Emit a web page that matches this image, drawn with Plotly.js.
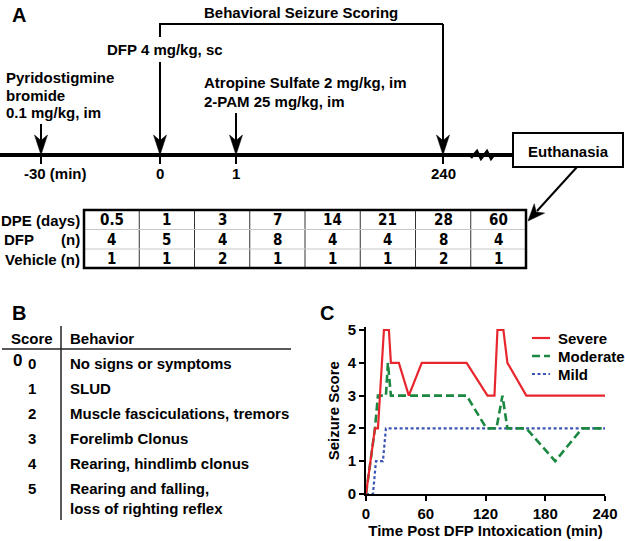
<!DOCTYPE html>
<html><head><meta charset="utf-8">
<script src="https://cdn.plot.ly/plotly-3.0.1.min.js"></script>
<style>body{margin:0;background:#fff}#c{width:625px;height:541px}</style>
</head><body><div id="c"></div><script>
// ---------------- data ----------------
const dpeDays = ['0.5','1','3','7','14','21','28','60'];
const dfpN = [4,5,4,8,4,4,8,4];
const vehicleN = [1,1,2,1,1,1,2,1];
const rowLabelRight = ['DPE (days)','(n)','Vehicle (n)'];
const rowLabelLeft = ['','DFP',''];
const scoreValues = ['0','1','2','3','4','5'];
const behaviorText = ['No signs or symptoms','SLUD','Muscle fasciculations, tremors','Forelimb Clonus','Rearing, hindlimb clonus','Rearing and falling,|loss of righting reflex'];
const seriesNames = ['Severe','Moderate','Mild'];
const severeTime  = [0,9,12,18,23,25,33,43,56,101,122,129,132,138,142,161,240];
const severeScore = [0,2,2,5,5,4,4,3,4,4,3,3,5,5,4,3,3];
const moderateTime  = [0,9,12,20,22,25,101,121,131,137,142,161,190,217,240];
const moderateScore = [0,2,3,3,4,3,3,2,2,3,2,2,1,2,2];
const mildTime  = [0,7,10,17,20,240];
const mildScore = [0,0,1,1,2,2];
const xTickVals = [0,60,120,180,240];
const yTickVals = [0,1,2,3,4,5];
const timelineLabels = ['-30 (min)','0','1','240'];

// ---------------- helpers ----------------
const W=625,H=541;
const FF='Liberation Sans, Arial, sans-serif';
const px=x=>x/W, py=y=>1-y/H;
const shapes=[], ann=[];
function line(x0,y0,x1,y1,w,c,dash){shapes.push({type:'line',xref:'paper',yref:'paper',x0:px(x0),y0:py(y0),x1:px(x1),y1:py(y1),line:{width:w,color:c||'#000',dash:dash||'solid'}});}
function rect(x0,y0,x1,y1,w){shapes.push({type:'rect',xref:'paper',yref:'paper',x0:px(x0),y0:py(y0),x1:px(x1),y1:py(y1),line:{width:w,color:'#000'},fillcolor:'rgba(0,0,0,0)'});}
function pathPx(pts,closed,fill,w){
  let s=pts.map((p,i)=>(i?'L':'M')+px(p[0]).toFixed(5)+','+py(p[1]).toFixed(5)).join(' ')+(closed?' Z':'');
  shapes.push({type:'path',xref:'paper',yref:'paper',path:s,fillcolor:fill||'rgba(0,0,0,0)',line:{width:w||0,color:'#000'}});
}
function head(tx,ty,dx,dy,len,half){
  const n=Math.hypot(dx,dy);dx/=n;dy/=n;const nx=-dy,ny=dx;
  const bx=tx-dx*len,by=ty-dy*len;
  pathPx([[tx,ty],[bx+nx*half,by+ny*half],[tx-dx*len*0.72,ty-dy*len*0.72],[bx-nx*half,by-ny*half]],true,'#000',0.5);
}
function text(t,x,y,size,xa,opts){
  ann.push(Object.assign({text:'<b>'+t+'</b>',x:px(x),y:py(y),xref:'paper',yref:'paper',showarrow:false,xanchor:xa||'center',yanchor:'middle',font:{family:FF,size:size||15,color:'#000'}},opts||{}));
}

// ---------------- Panel A ----------------
text('A',10,15,20,'left');
const evX=[41,160,236,443];
const lineY=155;
line(0,lineY,513,lineY,4);
pathPx([[471,158],[477,151],[481,159],[487,151],[491,159],[494,155]],false,null,2.5);
evX.forEach((x,i)=>{line(x,lineY,x,164,2);});
text(timelineLabels[0],55,173,15);
text(timelineLabels[1],evX[1],173,15);
text(timelineLabels[2],evX[2],173,15);
text(timelineLabels[3],evX[3],173,15);
const arrowTop=[124,62,113,24];
evX.forEach((x,i)=>{line(x,arrowTop[i],x,lineY-14,2);head(x,lineY,0,1,20,6.5);});
line(160,24,443,24,2);
line(160,23,160,37,2);
text('Behavioral Seizure Scoring',301,13,15);
text('DFP 4 mg/kg, sc',165,49,15);
text('Pyridostigmine',4,77,15,'left');
text('bromide',4,95,15,'left');
text('0.1 mg/kg, im',4,113,15,'left');
text('Atropine Sulfate 2 mg/kg, im',202,83,15,'left');
text('2-PAM 25 mg/kg, im',202,102,15,'left');
rect(513,133,623,167,2);
text('Euthanasia',568,151,15);
line(577,167,537,211,2);
head(528,221,-49,54,17,7);

// table
const tx0=84,tx1=526,colW=(tx1-tx0)/dpeDays.length;
const rowY=[210,229.5,249,268];
for(let i=1;i<dpeDays.length;i++) line(tx0+i*colW,rowY[0],tx0+i*colW,rowY[3],1,'#333');
line(tx0,rowY[1],tx1,rowY[1],1,'#c8c8c8');
line(tx0,rowY[2],tx1,rowY[2],1,'#c8c8c8');
rect(tx0,rowY[0],tx1,rowY[3],2.5);
const tableRows=[dpeDays,dfpN,vehicleN];
tableRows.forEach((row,r)=>{
  const cy=(rowY[r]+rowY[r+1])/2+0.5;
  row.forEach((v,i)=>text(String(v),tx0+(i+0.5)*colW,cy,16,'center',{font:{family:'DejaVu Sans Condensed, '+FF,size:15,color:'#000'}}));
  if(rowLabelRight[r]) text(rowLabelRight[r],82,cy,15,'right');
  if(rowLabelLeft[r]) text(rowLabelLeft[r],2,cy,15,'left');
});

// ---------------- Panel B ----------------
text('B',10,313,20,'left');
text('Score',32,338,15);
text('Behavior',68,338,15,'left');
line(2,349,291,349,1.5,'#222');
line(61,326,61,520,1.5,'#222');
text('0',17,360,17);
const rowsB=[363,388,413,438,463,488];
scoreValues.forEach((s,i)=>{
  text(s,32,rowsB[i],15);
  behaviorText[i].split('|').forEach((part,k)=>text(part,68,rowsB[i]+k*20,15,'left'));
});

// ---------------- Panel C ----------------
text('C',327,313,20);
const colors=['#e8262d','#1b8740','#3a55b4'];
const dashes=['solid','8px,4px','3px,2.5px'];
const widths=[2.2,2.6,2.2];
const legY=[338,356,374];
seriesNames.forEach((n,i)=>{
  line(532,legY[i],550,legY[i],widths[i],colors[i],dashes[i]);
  text(n,556,legY[i],15,'left');
});

const traces=[
  {x:severeTime,y:severeScore,name:seriesNames[0]},
  {x:moderateTime,y:moderateScore,name:seriesNames[1]},
  {x:mildTime,y:mildScore,name:seriesNames[2]}
].map((t,i)=>Object.assign(t,{type:'scatter',mode:'lines',line:{color:colors[i],width:widths[i],dash:dashes[i]},showlegend:false,hoverinfo:'skip',cliponaxis:false}));
traces.reverse();

const yTopPx=327.4, y0Px=494;
const layout={
  width:W,height:H,margin:{l:0,r:0,t:0,b:0},
  paper_bgcolor:'#fff',plot_bgcolor:'rgba(0,0,0,0)',
  showlegend:false,
  xaxis:{domain:[366/W,605/W],range:[0,240],tickmode:'array',tickvals:xTickVals,ticktext:xTickVals.map(v=>'<b>'+v+'</b>'),ticks:'outside',ticklen:5,tickwidth:2,tickcolor:'#000',
    showline:true,linewidth:2,linecolor:'#000',showgrid:false,zeroline:false,
    tickfont:{family:FF,size:15,color:'#000'},
    title:{text:'<b>Time Post DFP Intoxication (min)</b>',font:{family:FF,size:15,color:'#000'},standoff:4}},
  yaxis:{domain:[1-y0Px/H,1-yTopPx/H],range:[0,5.08],tickmode:'array',tickvals:yTickVals,ticktext:yTickVals.map(v=>'<b>'+v+'</b>'),ticks:'outside',ticklen:5,tickwidth:2,tickcolor:'#000',
    showline:true,linewidth:2,linecolor:'#000',showgrid:false,zeroline:false,
    tickfont:{family:FF,size:15,color:'#000'},
    title:{text:'<b>Seizure Score</b>',font:{family:FF,size:15,color:'#000'},standoff:4}},
  shapes:shapes,annotations:ann
};
Plotly.newPlot('c',traces,layout,{staticPlot:true,displayModeBar:false});
</script></body></html>
